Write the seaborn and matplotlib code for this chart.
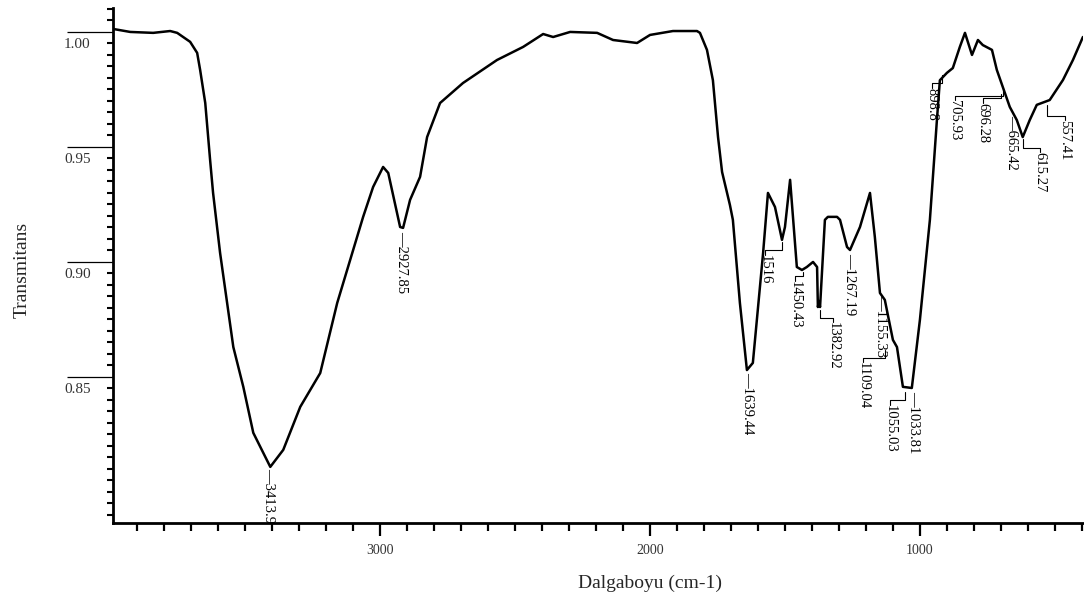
import numpy as np
import pandas as pd
import matplotlib
matplotlib.use("Agg")
import matplotlib.pyplot as plt
import matplotlib.transforms as mtransforms
import seaborn as sns
from matplotlib.ticker import MultipleLocator

# ---- spectrum ----
wavenumber = [3989, 3926, 3841, 3778, 3752, 3704, 3678, 3667, 3648, 3630, 3619, 3593,
              3567, 3544, 3507, 3470, 3433, 3407, 3359, 3296, 3222, 3159, 3111, 3063,
              3026, 2989, 2970, 2926, 2915, 2889, 2852, 2826, 2778, 2693, 2567, 2470,
              2396, 2359, 2296, 2196, 2137, 2048, 2000, 1915, 1826, 1815, 1789, 1767,
              1748, 1733, 1704, 1693, 1667, 1641, 1619, 1581, 1563, 1537, 1511, 1500,
              1481, 1456, 1437, 1419, 1396, 1381, 1378, 1374, 1370, 1352, 1341, 1307,
              1296, 1270, 1259, 1222, 1185, 1167, 1148, 1130, 1100, 1085, 1063, 1030,
              1000, 963, 937, 926, 900, 878, 852, 833, 807, 785, 767, 733, 715, 693,
              667, 641, 619, 593, 567, 519, 470, 433, 396]
transmittance = [1.0013, 1.0000, 0.9996, 1.0004, 0.9996, 0.9957, 0.9909, 0.9835, 0.9691,
                 0.9443, 0.9300, 0.9039, 0.8822, 0.8630, 0.8457, 0.8257, 0.8170, 0.8109,
                 0.8183, 0.8370, 0.8517, 0.8822, 0.9009, 0.9196, 0.9326, 0.9413, 0.9387,
                 0.9152, 0.9148, 0.9270, 0.9370, 0.9543, 0.9691, 0.9778, 0.9878, 0.9935,
                 0.9991, 0.9978, 1.0000, 0.9996, 0.9965, 0.9952, 0.9987, 1.0004, 1.0004,
                 0.9996, 0.9922, 0.9790, 0.9543, 0.9391, 0.9248, 0.9183, 0.8822, 0.8530,
                 0.8561, 0.9039, 0.9300, 0.9239, 0.9096, 0.9152, 0.9357, 0.8978, 0.8965,
                 0.8978, 0.9000, 0.8978, 0.8804, 0.8830, 0.8804, 0.9183, 0.9196, 0.9196,
                 0.9183, 0.9065, 0.9052, 0.9152, 0.9300, 0.9109, 0.8865, 0.8835, 0.8661,
                 0.8630, 0.8457, 0.8452, 0.8748, 0.9183, 0.9617, 0.9790, 0.9822, 0.9843,
                 0.9935, 0.9996, 0.9900, 0.9965, 0.9943, 0.9922, 0.9835, 0.9761, 0.9674,
                 0.9617, 0.9543, 0.9617, 0.9683, 0.9704, 0.9791, 0.9878, 0.9978]

# ---- peak labels placed directly under the band ----
direct_labels = ["3413.9", "2927.85", "1639.44", "1267.19", "1155.33", "1033.81", "665.42"]
direct_w = [3415, 2922, 1637, 1259, 1144, 1022, 659]
direct_t = [0.8102, 0.9135, 0.8520, 0.9040, 0.8855, 0.8440, 0.9639]

# ---- peak labels with elbow leaders ----
elbow_labels = ["1516", "1450.43", "1382.92", "1109.04", "1055.03", "898.8",
                "705.93", "696.28", "615.27", "557.41"]
elbow_peak_w = [1511, 1433, 1370, 1130, 1056, 919, 693, 700, 619, 530]
elbow_peak_t = [0.9087, 0.8957, 0.8791, 0.8617, 0.8435, 0.9813, 0.9757, 0.9730, 0.9535, 0.9683]
elbow_bend_t = [0.9052, 0.8939, 0.8757, 0.8583, 0.8400, 0.9778, 0.9722, 0.9713, 0.9496, 0.9635]
elbow_text_w = [1574, 1463, 1322, 1211, 1111, 956, 870, 767, 556, 463]

y_ticks = [0.85, 0.90, 0.95, 1.00]
y_tick_labels = ["0.85", "0.90", "0.95", "1.00"]
x_ticks = [1000, 2000, 3000]
x_tick_labels = ["1000", "2000", "3000"]

sns.set_style("ticks")
plt.rcParams['font.family'] = ['Liberation Serif', 'DejaVu Serif']

fig = plt.figure(figsize=(10.84, 6.08), dpi=100)
ax = fig.add_axes([0.1042, 0.1398, 0.8948, 0.847])

df = pd.DataFrame({"w": wavenumber, "T": transmittance})
sns.lineplot(data=df, x="w", y="T", ax=ax, color="black", linewidth=1.8,
             sort=False, estimator=None)

ax.set_xlim(3990, 396)
ax.set_ylim(0.7865, 1.0104)

for s in ["top", "right"]:
    ax.spines[s].set_visible(False)
for s in ["left", "bottom"]:
    ax.spines[s].set_linewidth(2)
    ax.spines[s].set_color("black")

ax.set_xticks(x_ticks)
ax.set_xticklabels(x_tick_labels)
ax.xaxis.set_minor_locator(MultipleLocator(100))
ax.tick_params(axis="x", which="major", direction="out", length=9, width=1.6,
               labelsize=10, pad=6, colors="black", labelcolor="#333333")
ax.tick_params(axis="x", which="minor", direction="out", length=6, width=1.6, colors="black")

ax.set_yticks(y_ticks)
ax.set_yticklabels(y_tick_labels)
ax.yaxis.set_minor_locator(MultipleLocator(0.005))
ax.tick_params(axis="y", which="major", direction="out", length=33, width=0.9,
               labelsize=11, pad=-17, colors="black", labelcolor="#333333")
ax.tick_params(axis="y", which="minor", direction="out", length=4, width=1.5, colors="black")
offset = mtransforms.ScaledTranslation(0, -4 / 72, fig.dpi_scale_trans)
for lab in ax.get_yticklabels():
    lab.set_va("top")
    lab.set_transform(lab.get_transform() + offset)

ax.set_xlabel("Dalgaboyu (cm-1)", fontsize=14)
ax.set_ylabel("Transmitans", fontsize=14)
ax.xaxis.set_label_coords(0.5536, -0.10)
ax.yaxis.set_label_coords(-0.085, 0.491)
ax.xaxis.label.set_va("top")

ann_fs = 10.5
for lab, w, t in zip(direct_labels, direct_w, direct_t):
    ax.text(w, t, "\u2014" + lab, rotation=-90, ha="center", va="top",
            fontsize=ann_fs, color="black")

for lab, pw, pt, bt, tw in zip(elbow_labels, elbow_peak_w, elbow_peak_t,
                               elbow_bend_t, elbow_text_w):
    ax.plot([pw, pw, tw, tw], [pt, bt, bt, bt - 0.002], color="black", linewidth=0.8)
    ax.text(tw, bt - 0.002, lab, rotation=-90, ha="center", va="top",
            fontsize=ann_fs, color="black")

fig.savefig("out.png", dpi=100)
